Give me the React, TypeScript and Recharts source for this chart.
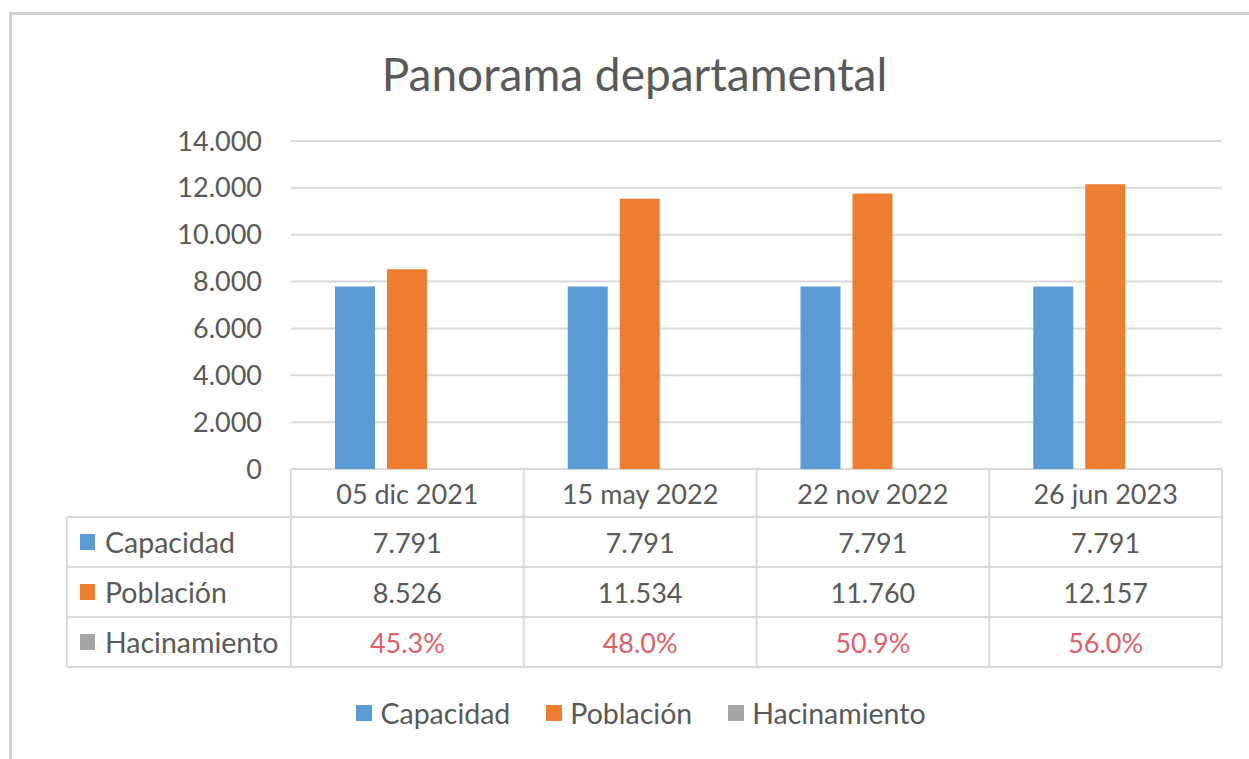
import React from 'react';
import { BarChart, Bar, XAxis, YAxis, CartesianGrid, Legend } from 'recharts';

const fechas = ['05 dic 2021', '15 may 2022', '22 nov 2022', '26 jun 2023'];
const capacidad = [7791, 7791, 7791, 7791];
const poblacion = [8526, 11534, 11760, 12157];
const hacinamiento = [0.453, 0.48, 0.509, 0.56];
const yTicks = [0, 2000, 4000, 6000, 8000, 10000, 12000, 14000];

const series = [
  { key: 'capacidad', name: 'Capacidad', color: '#5B9BD5' },
  { key: 'poblacion', name: 'Población', color: '#ED7D31' },
  { key: 'hacinamiento', name: 'Hacinamiento', color: '#A5A5A5' },
];

const data = fechas.map((fecha, i) => ({
  fecha,
  capacidad: capacidad[i],
  poblacion: poblacion[i],
  hacinamiento: hacinamiento[i],
}));

const FONT = 'Lato, "Open Sans", sans-serif';
const TEXT = '#595959';
const LINE = '#D9D9D9';
const PCT = '#E0606A';

const fmtMiles = (v: number) => String(Math.round(v)).replace(/\B(?=(\d{3})+(?!\d))/g, '.');
const fmtPct = (v: number) => (v * 100).toFixed(1) + '%';

const HEADER_H = 48;
const ROW_H = 50;
const LABEL_W = 224;

// each tick draws one column of the data table under its category
const TableTick = (props: any) => {
  const { x, y, payload, index } = props;
  const half = payload.offset;
  const left = x - half;
  const right = x + half;
  const cells = [
    { v: fmtMiles(capacidad[index]), c: TEXT },
    { v: fmtMiles(poblacion[index]), c: TEXT },
    { v: fmtPct(hacinamiento[index]), c: PCT },
  ];
  const bottom = y + HEADER_H + ROW_H * 3;
  return (
    <g>
      <line x1={right} x2={right} y1={y} y2={bottom} stroke={LINE} strokeWidth={2} />
      {index === 0 && <line x1={left} x2={left} y1={y} y2={bottom} stroke={LINE} strokeWidth={2} />}
      {[0, 1, 2, 3].map((r) => (
        <line key={r} x1={left} x2={right} y1={y + HEADER_H + ROW_H * r} y2={y + HEADER_H + ROW_H * r} stroke={LINE} strokeWidth={2} />
      ))}
      <text x={x} y={y + HEADER_H / 2} textAnchor="middle" dominantBaseline="central" fill={TEXT} fontSize={27} fontFamily={FONT}>
        {payload.value}
      </text>
      {cells.map((cell, r) => (
        <text key={r} x={x} y={y + HEADER_H + ROW_H * r + ROW_H / 2} textAnchor="middle" dominantBaseline="central" fill={cell.c} fontSize={27} fontFamily={FONT}>
          {cell.v}
        </text>
      ))}
      {index === 0 && (
        <g>
          <line x1={left - LABEL_W} x2={left - LABEL_W} y1={y + HEADER_H} y2={bottom} stroke={LINE} strokeWidth={2} />
          {[0, 1, 2, 3].map((r) => (
            <line key={r} x1={left - LABEL_W} x2={left} y1={y + HEADER_H + ROW_H * r} y2={y + HEADER_H + ROW_H * r} stroke={LINE} strokeWidth={2} />
          ))}
          {series.map((s, r) => {
            const cy = y + HEADER_H + ROW_H * r + ROW_H / 2;
            return (
              <g key={s.key}>
                <rect x={left - LABEL_W + 13} y={cy - 8} width={15} height={16} fill={s.color} />
                <text x={left - LABEL_W + 38} y={cy} dominantBaseline="central" fill={TEXT} fontSize={28.5} fontFamily={FONT}>
                  {s.name}
                </text>
              </g>
            );
          })}
        </g>
      )}
    </g>
  );
};

const LegendContent = () => (
  <div style={{ height: 92, display: 'flex', justifyContent: 'center', alignItems: 'center', paddingLeft: 33, fontFamily: FONT, fontSize: 28.5, color: TEXT }}>
    {series.map((s) => (
      <div key={s.key} style={{ display: 'flex', alignItems: 'center', margin: '0 18px' }}>
        <span style={{ width: 16, height: 16, background: s.color, display: 'inline-block', marginRight: 8 }} />
        <span>{s.name}</span>
      </div>
    ))}
  </div>
);

export default function App() {
  return (
    <div style={{ position: 'absolute', left: 0, top: 0, width: 1249, height: 759, background: '#fff', overflow: 'hidden' }}>
      <div style={{ position: 'absolute', left: 9, top: 12, right: -4, bottom: -4, borderTop: '3px solid #D2D2D2', borderLeft: '3px solid #D2D2D2' }} />
      <div style={{ position: 'absolute', left: 0, width: 1249, top: 44, textAlign: 'center', paddingLeft: 20, boxSizing: 'border-box', fontFamily: FONT, fontSize: 46, color: TEXT, lineHeight: '60px' }}>
        Panorama departamental
      </div>
      <BarChart
        width={1249}
        height={759}
        data={data}
        margin={{ top: 141, right: 27, bottom: 0, left: 0 }}
        barGap={12}
        barCategoryGap={44}
      >
        <CartesianGrid vertical={false} stroke={LINE} strokeWidth={2} />
        <XAxis
          dataKey="fecha"
          height={198}
          interval={0}
          axisLine={false}
          tickLine={false}
          tickSize={0}
          tickMargin={0}
          tick={<TableTick />}
        />
        <YAxis
          width={291}
          domain={[0, 14000]}
          ticks={yTicks}
          tickFormatter={fmtMiles}
          axisLine={false}
          tickLine={false}
          tickMargin={23}
          tick={{ fill: TEXT, fontSize: 27, fontFamily: FONT }}
        />
        <Legend verticalAlign="bottom" content={<LegendContent />} wrapperStyle={{ left: 0, width: 1249 }} />
        {series.map((s) => (
          <Bar key={s.key} dataKey={s.key} name={s.name} fill={s.color} isAnimationActive={false} />
        ))}
      </BarChart>
    </div>
  );
}
